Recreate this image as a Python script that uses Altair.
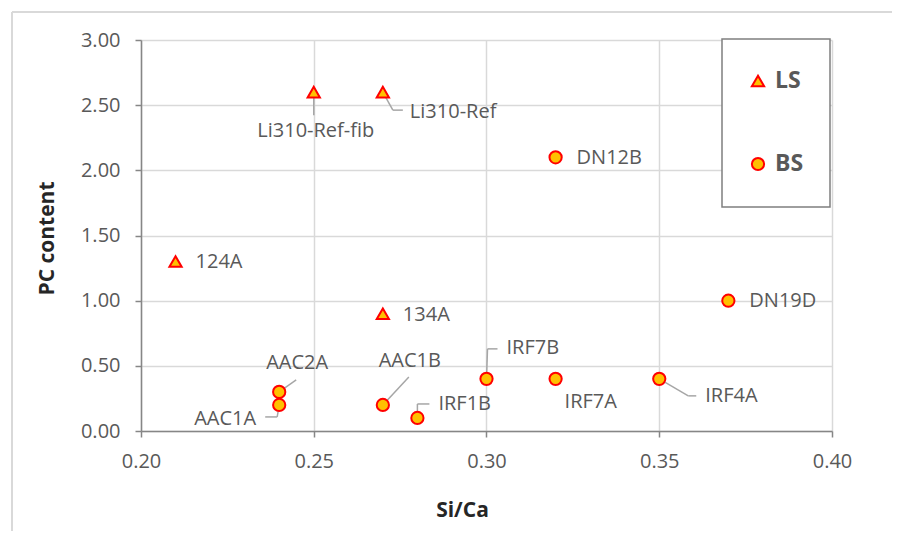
import altair as alt
import pandas as pd

# ---- data ----
names = ["124A", "Li310-Ref-fib", "Li310-Ref", "134A", "DN12B", "DN19D",
         "AAC2A", "AAC1A", "AAC1B", "IRF1B", "IRF7B", "IRF7A", "IRF4A"]
si_ca = [0.21, 0.25, 0.27, 0.27, 0.32, 0.37, 0.24, 0.24, 0.27, 0.28, 0.30, 0.32, 0.35]
pc_content = [1.30, 2.60, 2.60, 0.90, 2.10, 1.00, 0.30, 0.20, 0.20, 0.10, 0.40, 0.40, 0.40]
series = ["LS", "LS", "LS", "LS", "BS", "BS", "BS", "BS", "BS", "BS", "BS", "BS", "BS"]
series_order = ["LS", "BS"]
series_shapes = ["triangle-up", "circle"]

x_ticks = [0.20, 0.25, 0.30, 0.35, 0.40]
y_ticks = [0.0, 0.5, 1.0, 1.5, 2.0, 2.5, 3.0]

# ---- layout / style ----
W, H = 691, 391
X_DOM, Y_DOM = [0.20, 0.40], [0.0, 3.0]
PX_X = W / (X_DOM[1] - X_DOM[0])
PX_Y = H / (Y_DOM[1] - Y_DOM[0])
FILL, STROKE = "#FFC000", "#FF0000"
TXT = "#595959"
FONT = "Open Sans"

# legend box layout (pixels, relative to the plot area)
LEG_BOX = (581, 689, -1, 167)
LEG_SYM_X, LEG_LAB_X = 617, 634
LEG_ROWS = [41, 124]

# label offsets in pixels (dx right, dy down) and leader polylines
label_layout = {
    "124A": (20, 0, "left", []),
    "Li310-Ref-fib": (2, 39, "center", [(0, 0), (0, 23)]),
    "Li310-Ref": (27, 20, "left", [(0, 0), (10, 18), (20, 18)]),
    "134A": (20, 1, "left", []),
    "DN12B": (21, 1, "left", []),
    "DN19D": (21, 0, "left", []),
    "AAC2A": (18, -29, "center", [(0, 0), (17, -12)]),
    "AAC1A": (-23, 14, "right", [(0, 0), (-2, 12), (-14, 12)]),
    "AAC1B": (27, -44, "center", [(0, 0), (26, -28)]),
    "IRF1B": (21, -14, "left", [(0, 0), (0, -14), (12, -14)]),
    "IRF7B": (20, -31, "left", [(0, 0), (1, -30), (11, -30)]),
    "IRF7A": (9, 23, "left", []),
    "IRF4A": (46, 17, "left", [(0, 0), (29, 17), (37, 17)]),
}

df = pd.DataFrame({"name": names, "x": si_ca, "y": pc_content, "series": series})

lab_rows, seg_rows = [], []
for n, xv, yv in zip(names, si_ca, pc_content):
    dx, dy, al, leader = label_layout[n]
    lab_rows.append({"name": n, "lx": xv + dx / PX_X, "ly": yv - dy / PX_Y, "align": al})
    for (a, b), (c, d) in zip(leader[:-1], leader[1:]):
        seg_rows.append({"x1": xv + a / PX_X, "y1": yv - b / PX_Y,
                         "x2": xv + c / PX_X, "y2": yv - d / PX_Y})
labels = pd.DataFrame(lab_rows)
segs = pd.DataFrame(seg_rows)

xscale = alt.Scale(domain=X_DOM, nice=False, zero=False)
yscale = alt.Scale(domain=Y_DOM, nice=False)

x_axis = alt.Axis(values=x_ticks, format=".2f", title="Si/Ca", grid=True,
                  titleX=321, titleY=85, titleBaseline="alphabetic", titleAlign="center",
                  labelPadding=14)
y_axis = alt.Axis(values=y_ticks, format=".2f", title="PC content", grid=True,
                  titleX=-94, titleY=198, titleAngle=270, titleAlign="center",
                  titleBaseline="middle", labelPadding=15)

leaders = alt.Chart(segs).mark_rule(color="#a6a6a6", strokeWidth=1.5).encode(
    x=alt.X("x1:Q", scale=xscale, axis=x_axis),
    y=alt.Y("y1:Q", scale=yscale, axis=y_axis),
    x2="x2:Q", y2="y2:Q",
)

points = alt.Chart(df).mark_point(filled=True, opacity=1).encode(
    x=alt.X("x:Q", scale=xscale, axis=x_axis),
    y=alt.Y("y:Q", scale=yscale, axis=y_axis),
    shape=alt.Shape("series:N",
                    scale=alt.Scale(domain=series_order, range=series_shapes),
                    legend=None),
    fill=alt.value(FILL),
    stroke=alt.value(STROKE),
    strokeWidth=alt.value(2),
    size=alt.value(150),
)

text_layers = []
for al in ["left", "center", "right"]:
    text_layers.append(
        alt.Chart(labels).transform_filter(alt.datum.align == al).mark_text(
            align=al, baseline="middle", font=FONT, fontSize=20, color=TXT
        ).encode(
            x=alt.X("lx:Q", scale=xscale, axis=x_axis),
            y=alt.Y("ly:Q", scale=yscale, axis=y_axis),
            text="name:N",
        )
    )

one = pd.DataFrame({"a": [0]})

# legend drawn as a boxed key
legend_layers = [
    alt.Chart(one).mark_rect(fill="white", stroke="#7f7f7f", strokeWidth=1.5).encode(
        x=alt.value(LEG_BOX[0]), x2=alt.value(LEG_BOX[1]),
        y=alt.value(LEG_BOX[2]), y2=alt.value(LEG_BOX[3]))
]
for name, shp, ry in zip(series_order, series_shapes, LEG_ROWS):
    legend_layers.append(
        alt.Chart(one).mark_point(filled=True, opacity=1).encode(
            x=alt.value(LEG_SYM_X), y=alt.value(ry), shape=alt.value(shp),
            fill=alt.value(FILL), stroke=alt.value(STROKE),
            strokeWidth=alt.value(2), size=alt.value(150)))
    legend_layers.append(
        alt.Chart(one).mark_text(align="left", baseline="middle", font=FONT,
                                 fontSize=23, fontWeight="bold", color=TXT).encode(
            x=alt.value(LEG_LAB_X), y=alt.value(ry), text=alt.value(name)))

border_left = alt.Chart(one).mark_rule(color="#d9d9d9", strokeWidth=2).encode(
    x=alt.value(-129), y=alt.value(-28), y2=alt.value(520))
border_top = alt.Chart(one).mark_rule(color="#d9d9d9", strokeWidth=2).encode(
    x=alt.value(-129), x2=alt.value(760), y=alt.value(-28))

chart = alt.layer(border_left, border_top, leaders, points, *text_layers,
                  *legend_layers).properties(
    width=W, height=H,
    autosize=alt.AutoSizeParams(type="none"),
    padding={"left": 133, "top": 32, "right": 60, "bottom": 100},
).configure_view(strokeWidth=0).configure_axis(
    gridColor="#d9d9d9", gridWidth=1.5,
    domainColor="#868686", domainWidth=1.5,
    tickColor="#868686", tickWidth=1.5, tickSize=6,
    labelFont=FONT, labelFontSize=20, labelColor=TXT,
    labelFlush=False, labelOverlap=False,
    titleFont=FONT, titleFontSize=21, titleFontWeight="bold", titleColor="#262626",
)

chart.save("out.html", embed_options={"renderer": "svg", "actions": False})
